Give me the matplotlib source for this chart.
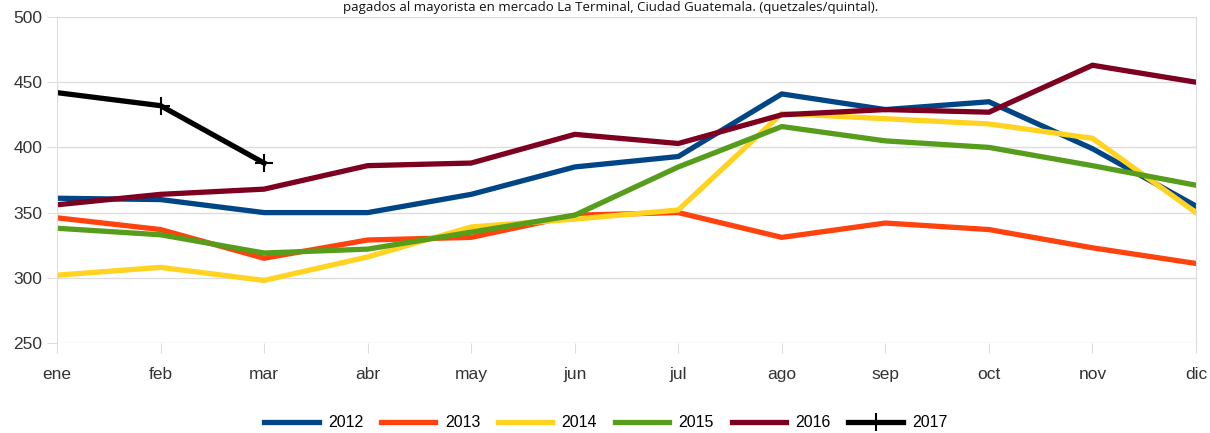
import matplotlib
matplotlib.use("Agg")
import matplotlib.pyplot as plt
from matplotlib import font_manager

months = ["ene", "feb", "mar", "abr", "may", "jun", "jul", "ago", "sep", "oct", "nov", "dic"]
s2012 = [361, 360, 350, 350, 364, 385, 393, 441, 429, 435, 399, 355]
s2013 = [346, 337, 315, 329, 331, 348, 350, 331, 342, 337, 323, 311]
s2014 = [302, 308, 298, 316, 339, 345, 352, 426, 422, 418, 407, 350]
s2015 = [338, 333, 319, 322, 335, 348, 385, 416, 405, 400, 386, 371]
s2016 = [356, 364, 368, 386, 388, 410, 403, 425, 429, 427, 463, 450]
s2017 = [442, 432, 388]
title = "pagados al mayorista en mercado La Terminal, Ciudad Guatemala. (quetzales/quintal)."

names = {f.name for f in font_manager.fontManager.ttflist}
tick_font = "Liberation Sans Narrow" if "Liberation Sans Narrow" in names else "Liberation Sans"

fig = plt.figure(figsize=(12.10, 4.33), dpi=100)
ax = fig.add_axes([57/1210, 1-343/433, (1196-57)/1210, (343-17)/433])

x = list(range(len(months)))
series = [("2012", s2012, "#004586"), ("2013", s2013, "#ff420e"), ("2014", s2014, "#ffd320"),
          ("2015", s2015, "#579d1c"), ("2016", s2016, "#7e0021")]
for lab, vals, col in series:
    ax.plot(x, vals, color=col, lw=3.8, label=lab, solid_joinstyle="miter")
ax.plot(x[:len(s2017)], s2017, color="black", lw=3.8, marker="+", ms=13, mew=1.5, label="2017")

ax.set_xlim(0, 11)
ax.set_ylim(250, 500)
ax.set_yticks([250, 300, 350, 400, 450, 500])
ax.set_xticks(x)
ax.set_xticklabels(months)
ax.grid(axis="y", color="#dddddd", lw=1)
ax.set_axisbelow(True)
for sp in ["top", "bottom"]:
    ax.spines[sp].set_visible(False)
for sp in ["left", "right"]:
    ax.spines[sp].set_color("#dddddd")
ax.tick_params(axis="both", colors="#dddddd", labelcolor="#333333", labelsize=12.5, length=7)
ax.tick_params(axis="x", pad=10)
for t in ax.get_xticklabels() + ax.get_yticklabels():
    t.set_fontfamily(tick_font)

leg = ax.legend(loc="center", bbox_to_anchor=(0.482, -0.245), ncol=6, frameon=False,
                handlelength=3.4, columnspacing=1.1, handletextpad=0.6,
                prop={"family": tick_font, "size": 11.5})

fig.text(0.505, 1-1/433, title, ha="center", va="top", fontsize=9.5, family="Open Sans", color="#111111")
fig.savefig("out.png", dpi=100)
